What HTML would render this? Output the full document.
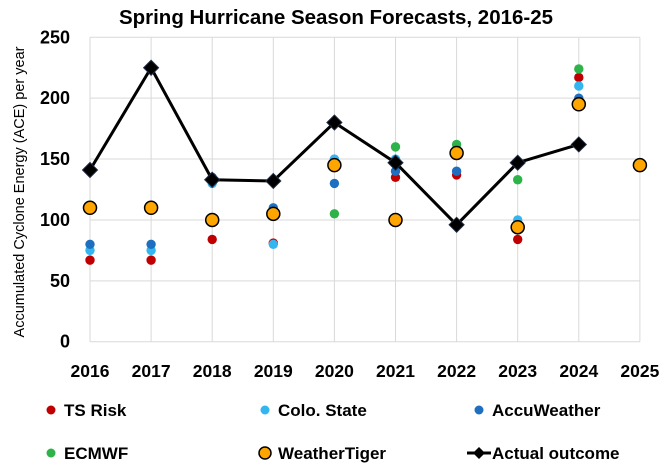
<!DOCTYPE html>
<html><head><meta charset="utf-8"><style>
body{margin:0;background:#fff;font-family:"Liberation Sans",sans-serif}
svg text{font-family:"Liberation Sans",sans-serif}
</style></head><body>
<svg width="667" height="471" viewBox="0 0 667 471">
<text x="336" y="24" text-anchor="middle" font-size="20.5" font-weight="bold">Spring Hurricane Season Forecasts, 2016-25</text>
<text transform="translate(24,192) rotate(-90)" text-anchor="middle" font-size="14.5">Accumulated Cyclone Energy (ACE) per year</text>
<g id="grid"></g><g id="marks"></g><g id="legend"></g>
</svg>
<script>
const years=[2016,2017,2018,2019,2020,2021,2022,2023,2024,2025];
const yTicks=[0,50,100,150,200,250];
const tsRisk=[67,67,84,81,null,135,137,84,217,null];
const coloState=[75,75,130,80,150,150,null,100,210,null];
const accuWeather=[80,80,135,110,130,140,140,null,200,null];
const ecmwf=[null,null,null,null,105,160,162,133,224,null];
const weatherTiger=[110,110,100,105,145,100,155,94,195,145];
const actual=[141,225,133,132,180,147,96,147,162,null];
const NS="http://www.w3.org/2000/svg";
const x0=90,dx=61.1,yb=341.7,sc=1.2176;
const X=i=>x0+i*dx, Y=v=>yb-v*sc;
function mk(t,a,p){const e=document.createElementNS(NS,t);for(const k in a)e.setAttribute(k,a[k]);p.appendChild(e);return e;}
const grid=document.getElementById('grid'),marks=document.getElementById('marks'),leg=document.getElementById('legend');
yTicks.forEach(v=>{
 const l=mk('line',{x1:X(0),x2:X(9),y1:Y(v),y2:Y(v),stroke:'#d9d9d9','stroke-width':1},grid);
 
 
 const t=mk('text',{x:70,y:Y(v)+6,'text-anchor':'end','font-size':18,'font-weight':'bold'},grid);t.textContent=v;
 
 
});
years.forEach((yr,i)=>{
 const l=mk('line',{x1:X(i),x2:X(i),y1:Y(250),y2:Y(0),stroke:'#d9d9d9','stroke-width':1},grid);
 
 
 const t=mk('text',{x:X(i),y:377,'text-anchor':'middle','font-size':17.5,'font-weight':'bold'},grid);t.textContent=yr;
 
 
});
function dots(arr,col,name,r,stroke){arr.forEach((v,i)=>{if(v==null)return;
 const c=mk('circle',{cx:X(i),cy:Y(v),r:r,fill:col},marks);
 if(stroke){c.setAttribute('stroke','#000');c.setAttribute('stroke-width',1.5);}
 
 });}
dots(tsRisk,'#c00000','ts-risk-point',4.7);
dots(coloState,'#33b5f0','colo-state-point',4.7);
dots(accuWeather,'#1f6fc0','accuweather-point',4.7);
dots(ecmwf,'#2db34a','ecmwf-point',4.7);
let pts=[];actual.forEach((v,i)=>{if(v!=null)pts.push(X(i)+','+Y(v));});
const pl=mk('polyline',{points:pts.join(' '),fill:'none',stroke:'#000','stroke-width':3},marks);


actual.forEach((v,i)=>{if(v==null)return;const x=X(i),y=Y(v);
 const d=mk('polygon',{points:`${x},${y-7.5} ${x+7.5},${y} ${x},${y+7.5} ${x-7.5},${y}`,fill:'#000',stroke:'#1f2a44','stroke-width':1},marks);
 
 });
dots(weatherTiger,'#ffa500','weathertiger-point',6.5,true);
const legItems=[['TS Risk','#c00000',51,410,'c'],['Colo. State','#33b5f0',265,410,'c'],['AccuWeather','#1f6fc0',479,410,'c'],
['ECMWF','#2db34a',51,453,'c'],['WeatherTiger','#ffa500',265,453,'o'],['Actual outcome','#000',479,453,'d']];
legItems.forEach(([lab,col,x,y,k])=>{
 const g=mk('g',{},leg);
 
 
 if(k=='c')mk('circle',{cx:x,cy:y,r:4.5,fill:col},g);
 else if(k=='o')mk('circle',{cx:x,cy:y,r:6,fill:col,stroke:'#000','stroke-width':1.5},g);
 else{mk('line',{x1:x-12,x2:x+12,y1:y,y2:y,stroke:'#000','stroke-width':3},g);mk('polygon',{points:`${x},${y-6} ${x+6},${y} ${x},${y+6} ${x-6},${y}`,fill:'#000'},g);}
 const t=mk('text',{x:x+13,y:y+6,'font-size':17,'font-weight':'bold'},g);t.textContent=lab;
});
</script>
</body></html>
